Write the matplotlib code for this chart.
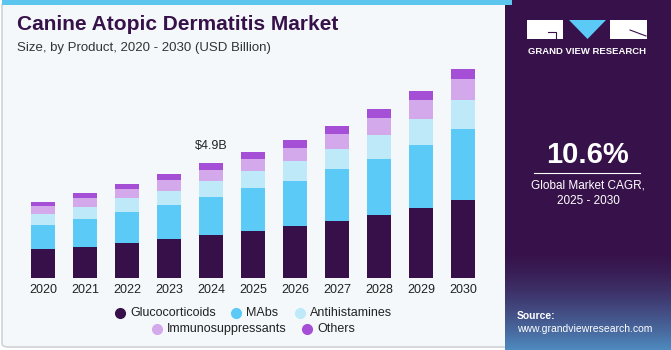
import matplotlib.pyplot as plt
import numpy as np
from matplotlib.patches import Rectangle, FancyBboxPatch, Polygon
from matplotlib.lines import Line2D

plt.rcParams['font.family'] = ['Liberation Sans', 'DejaVu Sans']

years = ['2020', '2021', '2022', '2023', '2024', '2025', '2026', '2027', '2028', '2029', '2030']
glucocorticoids = [1.24, 1.32, 1.48, 1.65, 1.85, 2.02, 2.22, 2.45, 2.69, 2.99, 3.33]
mabs = [1.03, 1.20, 1.35, 1.47, 1.61, 1.81, 1.94, 2.21, 2.41, 2.69, 3.02]
antihistamines = [0.47, 0.51, 0.57, 0.61, 0.70, 0.73, 0.85, 0.87, 1.01, 1.12, 1.26]
immunosuppressants = [0.34, 0.40, 0.41, 0.46, 0.46, 0.54, 0.56, 0.64, 0.74, 0.82, 0.88]
others = [0.17, 0.19, 0.20, 0.26, 0.29, 0.27, 0.32, 0.32, 0.36, 0.37, 0.43]

series = [
    ('Glucocorticoids', glucocorticoids, '#37104a'),
    ('MAbs', mabs, '#5bcaf6'),
    ('Antihistamines', antihistamines, '#bde9f9'),
    ('Immunosuppressants', immunosuppressants, '#d4a9ec'),
    ('Others', others, '#a54fd6'),
]

W, H = 671, 350
fig = plt.figure(figsize=(W / 100, H / 100), dpi=100)
fig.patch.set_facecolor('white')

def fx(px):
    return px / W

def fy(py):
    return 1 - py / H

# left panel
fig.add_artist(FancyBboxPatch((fx(2), fy(347)), fx(510), 345 / H,
                              boxstyle='round,pad=0,rounding_size=0.01',
                              transform=fig.transFigure, facecolor='#f4f8fb',
                              edgecolor='#cfd3d6', linewidth=1.2, zorder=0))
fig.add_artist(Rectangle((fx(2), fy(5)), fx(510), 5 / H, transform=fig.transFigure,
                         facecolor='#5dc6ee', edgecolor='none', zorder=1))

# right panel with gradient at the bottom
pax = fig.add_axes([fx(505), 0, fx(166), 1])
grad = np.ones((350, 1, 3))
top = np.array([0x37, 0x12, 0x4a]) / 255
bot = np.array([0x4f, 0x8c, 0xc0]) / 255
for i in range(350):
    t = max(0, (i - 250) / 100)
    grad[i, 0] = top * (1 - t ** 1.5) + bot * t ** 1.5
pax.imshow(grad, aspect='auto', extent=[0, 166, 350, 0])
pax.set_xlim(0, 166)
pax.set_ylim(350, 0)
pax.axis('off')
# logo
pax.add_patch(Rectangle((22, 20), 36, 19, facecolor='white', edgecolor='none'))
pax.add_patch(Rectangle((105, 20), 37, 19, facecolor='white', edgecolor='none'))
pax.add_patch(Polygon([[64, 20], [101, 20], [82.5, 39]], facecolor='#5bcaf6', edgecolor='none'))
pax.plot([43, 51, 51], [32, 32, 38], color='#37124a', lw=0.8)
pax.plot([125, 141], [30, 36], color='#37124a', lw=0.8)
pax.text(82, 51, 'GRAND VIEW RESEARCH', color='white', fontsize=6.8,
         fontweight='bold', ha='center', va='center')
pax.text(83, 155, '10.6%', color='white', fontsize=21, fontweight='bold',
         ha='center', va='center')
pax.plot([29, 135], [173, 173], color='white', lw=0.8)
pax.text(83, 185, 'Global Market CAGR,', color='white', fontsize=8.5, ha='center', va='center')
pax.text(83, 201, '2025 - 2030', color='white', fontsize=8.5, ha='center', va='center')
pax.text(12, 316, 'Source:', color='white', fontsize=7.5, fontweight='bold', ha='left', va='center')
pax.text(12, 329, 'www.grandviewresearch.com', color='white', fontsize=7.5, ha='left', va='center')

# titles
fig.text(fx(17), fy(25), 'Canine Atopic Dermatitis Market', color='#37124a',
         fontsize=15, fontweight='bold', ha='left', va='center')
fig.text(fx(17), fy(48), 'Size, by Product, 2020 - 2030 (USD Billion)', color='#333333',
         fontsize=9.5, ha='left', va='center')

# chart
ax = fig.add_axes([fx(20), fy(278), fx(470), (278 - 60) / H])
ax.set_facecolor('none')
x = np.arange(len(years))
bottom = np.zeros(len(years))
for name, vals, col in series:
    ax.bar(x, vals, width=0.57, bottom=bottom, color=col, edgecolor='none', label=name)
    bottom += np.array(vals)
ax.set_xlim(-0.548, 10.643)
ax.set_ylim(0, 218 / 23.4)
ax.set_xticks(x)
ax.set_xticklabels(years, fontsize=9, color='#222222')
ax.tick_params(axis='x', length=0, pad=4)
ax.set_yticks([])
for s in ax.spines.values():
    s.set_visible(False)
ax.annotate('$4.9B', (4, bottom[4]), xytext=(0, 8), textcoords='offset points',
            ha='center', va='bottom', fontsize=9, color='#222222')

# legend
rows = [[(120, 0), (236, 1), (300, 2)], [(157, 3), (307, 4)]]
for ry, row in zip([313, 329], rows):
    for mx, idx in row:
        name, _, col = series[idx]
        fig.add_artist(Line2D([fx(mx)], [fy(ry)], marker='o', markersize=7,
                              color=col, linestyle='none', transform=fig.transFigure))
        fig.text(fx(mx + 10), fy(ry), name, fontsize=9, color='#222222',
                 ha='left', va='center')

fig.savefig('out.png', dpi=100)
